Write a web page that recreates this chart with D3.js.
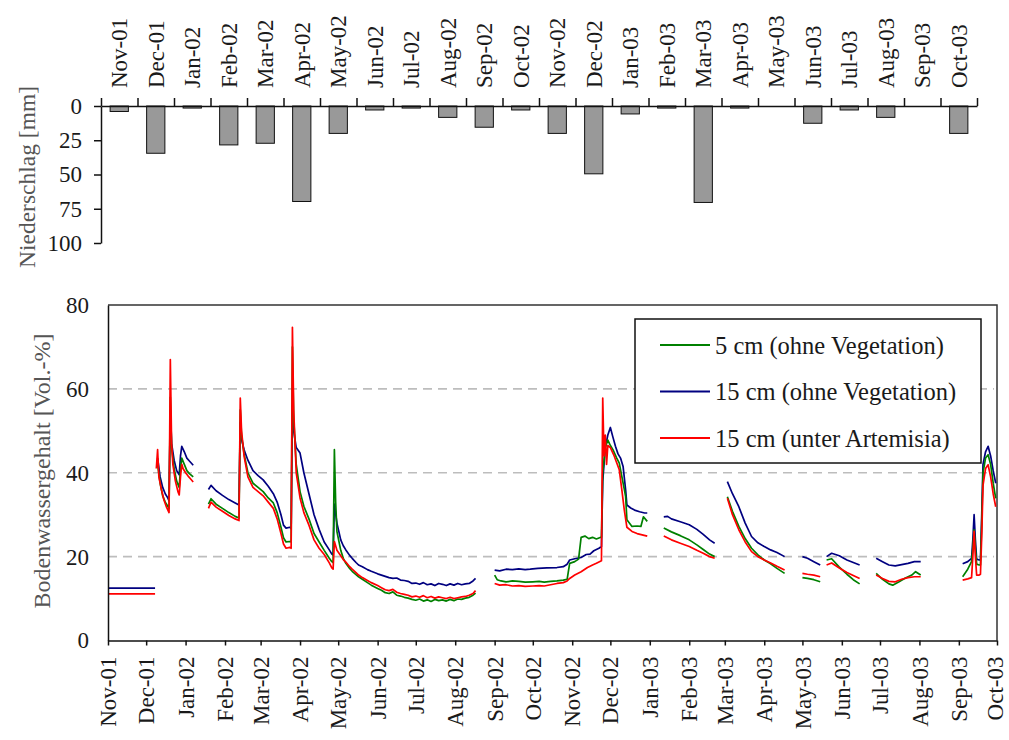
<!DOCTYPE html>
<html>
<head>
<meta charset="utf-8">
<script src="https://cdn.jsdelivr.net/npm/d3@7"></script>
<style>
  html, body { margin: 0; padding: 0; background: #fff; }
  svg, svg text { font-family: "Liberation Serif", "Times New Roman", Times, "DejaVu Serif", serif !important; }
  svg { display: block; }
</style>
</head>
<body>
<svg id="chart" width="1009" height="740"></svg>
<script>
// Month labels shared by the precipitation bars and the soil-moisture time axis
const months = ["Nov-01","Dec-01","Jan-02","Feb-02","Mar-02","Apr-02","May-02","Jun-02","Jul-02","Aug-02","Sep-02","Oct-02",
                "Nov-02","Dec-02","Jan-03","Feb-03","Mar-03","Apr-03","May-03","Jun-03","Jul-03","Aug-03","Sep-03","Oct-03"];

// Monthly precipitation [mm]
const precipitation = [4, 34.5, 1.5, 28.4, 27.2, 69.7, 20, 2.9, 1.5, 8.3, 15.5, 2.9,
                       20, 49.5, 5.8, 1.5, 70.4, 1.5, 0, 12.6, 2.9, 8.3, 0, 20];

const precipTicks = [0, 25, 50, 75, 100];
const moistureTicks = [0, 20, 40, 60, 80];
const gridValues = [20, 40, 60];

// Soil water content [Vol.-%]; null marks a gap in the record
const soil5 = [
  ["2001-12-10",42],["2001-12-12",37.5],["2001-12-14",34.5],["2001-12-16",33],["2001-12-18",32],["2001-12-19",31.5],
  ["2001-12-20",58],["2001-12-21",46],["2001-12-23",41],["2001-12-25",38],["2001-12-27",36.5],["2001-12-28",41],
  ["2001-12-29",43.5],["2001-12-31",42],["2002-01-02",40.5],["2002-01-04",39.8],["2002-01-07",39],["2002-01-08",null],
  ["2002-01-19",32.5],["2002-01-21",33.8],["2002-01-25",32.5],["2002-01-30",31.5],["2002-02-04",30.5],["2002-02-09",29.6],
  ["2002-02-12",29.2],["2002-02-13",55],["2002-02-14",49],["2002-02-16",44.5],["2002-02-19",40],["2002-02-23",37.5],
  ["2002-02-27",36.5],["2002-03-03",35.5],["2002-03-07",34],["2002-03-11",32.8],["2002-03-14",30.5],["2002-03-17",27],
  ["2002-03-19",24.5],["2002-03-21",23.5],["2002-03-24",23.6],["2002-03-25",23.5],["2002-03-26",70],["2002-03-27",53],
  ["2002-03-29",42],["2002-04-01",35.5],["2002-04-04",32],["2002-04-08",29],["2002-04-12",25.5],["2002-04-16",23.5],
  ["2002-04-20",21.5],["2002-04-24",19.6],["2002-04-26",18.8],["2002-04-27",18.6],["2002-04-28",45.5],["2002-04-29",33],
  ["2002-04-30",26],["2002-05-03",21.5],["2002-05-05",19.6],["2002-05-07",18.4],["2002-05-10",17.2],["2002-05-12",16.5],
  ["2002-05-15",15.7],["2002-05-17",15.2],["2002-05-20",14.6],["2002-05-24",13.8],["2002-05-27",13.2],["2002-06-01",12.4],
  ["2002-06-04",12.0],["2002-06-07",11.4],["2002-06-10",11.2],["2002-06-13",11.6],["2002-06-16",10.8],["2002-06-19",10.6],
  ["2002-06-22",10.3],["2002-06-25",10.1],["2002-06-28",9.8],["2002-07-01",9.6],["2002-07-04",9.9],["2002-07-07",9.4],
  ["2002-07-10",9.7],["2002-07-13",9.3],["2002-07-16",9.8],["2002-07-19",9.5],["2002-07-22",9.7],["2002-07-25",9.4],
  ["2002-07-28",9.8],["2002-07-31",9.5],["2002-08-03",9.9],["2002-08-06",9.8],["2002-08-09",10.1],["2002-08-12",10.3],
  ["2002-08-15",10.8],["2002-08-17",11.3],["2002-08-18",null],
  ["2002-09-01",15.6],["2002-09-03",14.5],["2002-09-06",14.2],["2002-09-10",14],["2002-09-15",14.2],["2002-09-20",14.1],
  ["2002-09-25",13.9],["2002-10-01",14],["2002-10-06",14.1],["2002-10-10",13.9],["2002-10-15",14.1],["2002-10-20",14.2],
  ["2002-10-25",14.4],["2002-10-28",14.6],["2002-10-30",18.4],["2002-11-03",18.8],["2002-11-06",19.4],["2002-11-08",24.6],
  ["2002-11-11",24.9],["2002-11-14",24.3],["2002-11-17",24.6],["2002-11-20",24.2],["2002-11-24",24.7],["2002-11-25",40],
  ["2002-11-27",46],["2002-11-29",47.8],["2002-12-01",46.5],["2002-12-03",45.5],["2002-12-06",43.5],["2002-12-08",42.3],
  ["2002-12-10",39.1],["2002-12-12",36],["2002-12-13",34.3],["2002-12-14",28.8],["2002-12-18",27.2],["2002-12-22",27.3],
  ["2002-12-25",27.2],["2002-12-27",29.5],["2002-12-30",28.4],["2002-12-31",null],
  ["2003-01-12",26.8],["2003-01-18",25.9],["2003-01-25",25],["2003-02-01",24],["2003-02-07",22.8],["2003-02-12",21.7],
  ["2003-02-17",20.6],["2003-02-21",20],["2003-02-22",null],
  ["2003-03-03",34.3],["2003-03-07",30.8],["2003-03-12",27.2],["2003-03-17",24.3],["2003-03-22",22],["2003-03-27",20.4],
  ["2003-04-01",19.2],["2003-04-06",18.3],["2003-04-11",17.2],["2003-04-17",16],["2003-04-18",null],
  ["2003-05-01",15],["2003-05-05",14.8],["2003-05-10",14.5],["2003-05-15",14],["2003-05-16",null],
  ["2003-05-20",19.2],["2003-05-24",19.5],["2003-05-30",17.5],["2003-06-05",15.8],["2003-06-10",14.5],["2003-06-15",13.5],
  ["2003-06-16",null],
  ["2003-06-28",16],["2003-07-03",14.6],["2003-07-08",13.5],["2003-07-11",13.2],["2003-07-16",14],["2003-07-21",14.9],
  ["2003-07-26",15.6],["2003-07-29",16.4],["2003-08-02",15.6],["2003-08-03",null],
  ["2003-09-04",15.2],["2003-09-08",17],["2003-09-11",18.8],["2003-09-12",22],["2003-09-13",26.4],["2003-09-14",22],
  ["2003-09-15",18.2],["2003-09-17",18],["2003-09-18",18],["2003-09-19",28],["2003-09-20",40],["2003-09-22",43.5],
  ["2003-09-24",44.3],["2003-09-26",42],["2003-09-28",37.5],["2003-09-30",33.9]
];

const soil15 = [
  ["2001-11-01",12.5],["2001-12-08",12.5],["2001-12-09",null],
  ["2001-12-10",43.5],["2001-12-12",39],["2001-12-14",36.5],["2001-12-16",35],["2001-12-18",34],["2001-12-19",33.3],
  ["2001-12-20",55],["2001-12-21",47],["2001-12-23",43],["2001-12-25",40.5],["2001-12-27",39.5],["2001-12-28",44],
  ["2001-12-29",46.3],["2001-12-31",45],["2002-01-02",43.5],["2002-01-04",42.8],["2002-01-07",41.8],["2002-01-08",null],
  ["2002-01-19",36],["2002-01-21",37],["2002-01-25",35.7],["2002-01-30",34.6],["2002-02-04",33.6],["2002-02-09",32.8],
  ["2002-02-12",32.3],["2002-02-13",52],["2002-02-14",48],["2002-02-16",45.5],["2002-02-19",43],["2002-02-23",40.5],
  ["2002-02-27",39.3],["2002-03-03",38.3],["2002-03-07",36.8],["2002-03-11",35],["2002-03-14",33],["2002-03-17",30],
  ["2002-03-19",27.5],["2002-03-21",26.8],["2002-03-24",27],["2002-03-25",26.7],["2002-03-26",56],["2002-03-27",50],
  ["2002-03-29",46],["2002-04-01",44.7],["2002-04-04",40],["2002-04-08",35],["2002-04-12",30],["2002-04-16",26.5],
  ["2002-04-20",23.5],["2002-04-24",21.6],["2002-04-26",20.6],["2002-04-27",20.4],["2002-04-28",32.5],["2002-04-30",28],
  ["2002-05-03",24],["2002-05-05",22.6],["2002-05-07",21.6],["2002-05-10",20.3],["2002-05-12",19.6],["2002-05-15",18.6],
  ["2002-05-17",18],["2002-05-20",17.6],["2002-05-24",16.9],["2002-05-27",16.5],["2002-06-01",15.9],["2002-06-04",15.6],
  ["2002-06-07",15.3],["2002-06-10",15.0],["2002-06-13",14.8],["2002-06-16",14.9],["2002-06-19",14.4],["2002-06-22",14.3],
  ["2002-06-25",14.1],["2002-06-28",13.6],["2002-07-01",13.7],["2002-07-04",13.4],["2002-07-07",13.8],["2002-07-10",13.3],
  ["2002-07-13",13.5],["2002-07-16",13.1],["2002-07-19",13.6],["2002-07-22",13.4],["2002-07-25",13.1],["2002-07-28",13.5],
  ["2002-07-31",13.2],["2002-08-03",13.6],["2002-08-06",13.3],["2002-08-09",13.5],["2002-08-12",13.6],["2002-08-15",14.2],
  ["2002-08-17",14.8],["2002-08-18",null],
  ["2002-09-01",16.8],["2002-09-05",16.6],["2002-09-10",17],["2002-09-15",16.9],["2002-09-20",17.1],["2002-09-25",16.9],
  ["2002-09-29",17],["2002-10-05",17.2],["2002-10-12",17.3],["2002-10-20",17.4],["2002-10-25",17.6],["2002-10-28",18.2],
  ["2002-10-30",19.2],["2002-11-03",19.5],["2002-11-08",19.8],["2002-11-12",20.5],["2002-11-15",20.6],["2002-11-18",21.4],
  ["2002-11-22",22],["2002-11-24",22.4],["2002-11-25",38],["2002-11-27",46],["2002-11-29",49],["2002-12-01",50.8],
  ["2002-12-03",48.5],["2002-12-05",46.3],["2002-12-07",44.5],["2002-12-09",43.5],["2002-12-11",41.5],["2002-12-13",35.9],
  ["2002-12-14",32.3],["2002-12-17",31.6],["2002-12-20",31.1],["2002-12-24",30.7],["2002-12-28",30.4],["2002-12-30",30.4],
  ["2002-12-31",null],
  ["2003-01-12",29.5],["2003-01-15",29.6],["2003-01-18",29],["2003-01-25",28.3],["2003-02-01",27.6],["2003-02-07",26.5],
  ["2003-02-12",25.3],["2003-02-17",24],["2003-02-21",23.2],["2003-02-22",null],
  ["2003-03-03",37.9],["2003-03-07",35],["2003-03-12",31.9],["2003-03-17",28],["2003-03-22",24.8],["2003-03-27",23.3],
  ["2003-04-01",22.4],["2003-04-06",21.6],["2003-04-11",21],["2003-04-17",20],["2003-04-18",null],
  ["2003-05-01",20],["2003-05-05",19.6],["2003-05-10",18.8],["2003-05-15",18],["2003-05-16",null],
  ["2003-05-20",20],["2003-05-24",20.8],["2003-05-30",20.2],["2003-06-05",19.2],["2003-06-10",18.6],["2003-06-15",18],
  ["2003-06-16",null],
  ["2003-06-28",19.6],["2003-07-03",18.8],["2003-07-08",18],["2003-07-13",17.8],["2003-07-18",18.1],["2003-07-23",18.4],
  ["2003-07-28",18.8],["2003-08-02",18.8],["2003-08-03",null],
  ["2003-09-04",18.3],["2003-09-08",18.8],["2003-09-11",19.6],["2003-09-12",24],["2003-09-13",30],["2003-09-14",24],
  ["2003-09-15",19.4],["2003-09-17",19.2],["2003-09-18",19.2],["2003-09-19",30],["2003-09-20",42],["2003-09-22",45],
  ["2003-09-24",46.3],["2003-09-26",44],["2003-09-28",40.5],["2003-09-30",37.5]
];

const soil15Artemisia = [
  ["2001-11-01",11.1],["2001-12-08",11.1],["2001-12-09",null],
  ["2001-12-09",41],["2001-12-10",45.5],["2001-12-11",39],["2001-12-13",36],["2001-12-15",33.5],["2001-12-17",31.8],
  ["2001-12-19",30.5],["2001-12-20",67],["2001-12-21",47],["2001-12-22",42],["2001-12-24",38],["2001-12-26",35.5],
  ["2001-12-27",34.7],["2001-12-28",39],["2001-12-29",42],["2001-12-30",41],["2002-01-01",40],["2002-01-03",39.2],
  ["2002-01-05",38.5],["2002-01-07",37.8],["2002-01-08",null],
  ["2002-01-19",31.5],["2002-01-21",33],["2002-01-25",31.8],["2002-01-30",30.8],["2002-02-04",29.8],["2002-02-09",29],
  ["2002-02-12",28.6],["2002-02-13",57.8],["2002-02-14",50],["2002-02-16",44],["2002-02-19",39],["2002-02-23",36.5],
  ["2002-02-27",35.5],["2002-03-03",34.5],["2002-03-07",33],["2002-03-11",31.5],["2002-03-14",29],["2002-03-17",25.5],
  ["2002-03-19",23],["2002-03-21",22],["2002-03-24",22.2],["2002-03-25",22],["2002-03-26",74.7],["2002-03-27",55],
  ["2002-03-29",40],["2002-04-01",34],["2002-04-04",30.5],["2002-04-08",27.5],["2002-04-12",24],["2002-04-16",22],
  ["2002-04-20",20.5],["2002-04-24",18.5],["2002-04-26",17.3],["2002-04-27",17],["2002-04-28",23.6],["2002-04-30",21.5],
  ["2002-05-03",20.2],["2002-05-05",19.3],["2002-05-07",18.7],["2002-05-10",17.6],["2002-05-12",17],["2002-05-15",16.2],
  ["2002-05-17",15.6],["2002-05-20",15],["2002-05-24",14.3],["2002-05-27",13.8],["2002-06-01",13.1],["2002-06-04",12.6],
  ["2002-06-07",12.1],["2002-06-10",11.9],["2002-06-13",12.2],["2002-06-16",11.5],["2002-06-19",11.2],["2002-06-22",11.0],
  ["2002-06-25",10.8],["2002-06-28",10.4],["2002-07-01",10.6],["2002-07-04",10.3],["2002-07-07",10.7],["2002-07-10",10.2],
  ["2002-07-13",10.5],["2002-07-16",10.1],["2002-07-19",10.4],["2002-07-22",10.2],["2002-07-25",10.0],["2002-07-28",10.3],
  ["2002-07-31",10.0],["2002-08-03",10.2],["2002-08-06",10.4],["2002-08-09",10.5],["2002-08-12",10.8],["2002-08-15",11.2],
  ["2002-08-17",11.9],["2002-08-18",null],
  ["2002-09-01",13.6],["2002-09-05",13.2],["2002-09-10",13.3],["2002-09-15",13.0],["2002-09-20",13.1],["2002-09-25",12.9],
  ["2002-10-01",13],["2002-10-06",13.1],["2002-10-10",13.0],["2002-10-15",13.3],["2002-10-20",13.6],["2002-10-25",13.8],
  ["2002-10-28",14.2],["2002-10-30",14.8],["2002-11-03",15.6],["2002-11-08",16.4],["2002-11-13",17.4],["2002-11-17",18],
  ["2002-11-20",18.4],["2002-11-24",19],["2002-11-25",57.8],["2002-11-26",44],["2002-11-27",49],["2002-11-28",42],
  ["2002-11-29",46.5],["2002-12-01",46],["2002-12-04",44],["2002-12-08",40.7],["2002-12-10",36],["2002-12-12",31],
  ["2002-12-14",27],["2002-12-18",26],["2002-12-22",25.5],["2002-12-26",25.2],["2002-12-30",24.9],["2002-12-31",null],
  ["2003-01-12",24.9],["2003-01-18",24],["2003-01-25",23.2],["2003-02-01",22.4],["2003-02-07",21.5],["2003-02-12",20.8],
  ["2003-02-17",20],["2003-02-21",19.6],["2003-02-22",null],
  ["2003-03-03",33.9],["2003-03-07",30],["2003-03-12",26.4],["2003-03-17",23.5],["2003-03-22",21.2],["2003-03-27",20],
  ["2003-04-01",19.2],["2003-04-06",18.5],["2003-04-11",17.7],["2003-04-17",16.8],["2003-04-18",null],
  ["2003-05-01",16],["2003-05-05",15.8],["2003-05-10",15.6],["2003-05-15",15.2],["2003-05-16",null],
  ["2003-05-20",18],["2003-05-24",18.5],["2003-05-30",17.3],["2003-06-05",16.2],["2003-06-10",15.5],["2003-06-15",14.8],
  ["2003-06-16",null],
  ["2003-06-28",15.6],["2003-07-03",14.8],["2003-07-08",14.1],["2003-07-13",14],["2003-07-18",14.6],["2003-07-23",15],
  ["2003-07-28",15.2],["2003-08-02",15.2],["2003-08-03",null],
  ["2003-09-04",14.4],["2003-09-08",14.7],["2003-09-11",15],["2003-09-12",20],["2003-09-13",26],["2003-09-14",20],
  ["2003-09-15",15.6],["2003-09-17",15.6],["2003-09-18",15.8],["2003-09-19",25],["2003-09-20",37],["2003-09-22",41],
  ["2003-09-24",41.9],["2003-09-26",39],["2003-09-28",35],["2003-09-30",31.9]
];

const seriesNames = ["5 cm (ohne Vegetation)", "15 cm (ohne Vegetation)", "15 cm (unter Artemisia)"];
const seriesColors = ["#008000", "#000080", "#ff0000"];

const svg = d3.select("#chart");
const textColor = "#1a1a1a";
const titleColor = "#555";
const parseDate = d3.timeParse("%Y-%m-%d");

/* ---------- Precipitation panel (bars hang down from the top axis) ---------- */
const precipBox = { x0: 101, x1: 977, y0: 106, y1: 243 };
const xBand = d3.scaleBand().domain(months).range([precipBox.x0, precipBox.x1]).paddingInner(0.5).paddingOuter(0.25);
const xEdge = d3.scaleLinear().domain([0, months.length]).range([precipBox.x0, precipBox.x1]);
const yPrecip = d3.scaleLinear().domain([0, 100]).range([precipBox.y0, precipBox.y1]);

const gTop = svg.append("g");

gTop.selectAll("rect.bar")
  .data(precipitation)
  .enter().append("rect")
  .attr("class", "bar")
  .attr("x", (d, i) => xBand(months[i]))
  .attr("y", yPrecip(0))
  .attr("width", xBand.bandwidth())
  .attr("height", d => yPrecip(d) - yPrecip(0))
  .attr("fill", "#999")
  .attr("stroke", "#111")
  .attr("stroke-width", 1);

// month separators along the top axis
const topAxis = gTop.append("g")
  .attr("transform", `translate(0,${precipBox.y0})`)
  .call(d3.axisTop(xEdge).tickValues(d3.range(months.length + 1)).tickFormat("").tickSize(8).tickSizeOuter(0));
topAxis.selectAll("path, line").attr("stroke", "#111").attr("stroke-width", 1.5);

gTop.selectAll("text.mlab")
  .data(months)
  .enter().append("text")
  .attr("class", "mlab")
  .attr("transform", d => `translate(${xBand(d) + xBand.bandwidth() / 2},88) rotate(-90)`)
  .attr("text-anchor", "start")
  .attr("dy", "0.35em")
  .attr("font-size", 23)
  .attr("fill", textColor)
  .text(d => d);

const leftTop = gTop.append("g")
  .attr("transform", `translate(${precipBox.x0},0)`)
  .call(d3.axisLeft(yPrecip).tickValues(precipTicks).tickSize(7).tickPadding(12).tickSizeOuter(0));
leftTop.selectAll("path, line").attr("stroke", "#111").attr("stroke-width", 1.5);
leftTop.selectAll("text").attr("font-size", 23).attr("fill", textColor);

gTop.append("text")
  .attr("transform", "translate(27,177) rotate(-90)")
  .attr("text-anchor", "middle")
  .attr("dy", "0.35em")
  .attr("font-size", 23.5)
  .attr("fill", titleColor)
  .text("Niederschlag [mm]");

/* ---------- Soil water content panel ---------- */
const moistBox = { x0: 108, x1: 997, y0: 305, y1: 640.5 };
const xTime = d3.scaleTime()
  .domain([parseDate("2001-11-01"), parseDate("2003-10-01")])
  .range([moistBox.x0, moistBox.x1]);
const yMoist = d3.scaleLinear().domain([0, 80]).range([moistBox.y1, moistBox.y0]);

const gBot = svg.append("g");

// dashed horizontal guides
gBot.selectAll("line.grid")
  .data(gridValues)
  .enter().append("line")
  .attr("class", "grid")
  .attr("x1", moistBox.x0).attr("x2", moistBox.x1 - 3)
  .attr("y1", d => yMoist(d)).attr("y2", d => yMoist(d))
  .attr("stroke", "#bdbdbd")
  .attr("stroke-width", 1.6)
  .attr("stroke-dasharray", "9,6");

// frame: top and right edges
gBot.append("path")
  .attr("d", d3.line()([[moistBox.x0, moistBox.y0], [moistBox.x1, moistBox.y0], [moistBox.x1, moistBox.y1]]))
  .attr("fill", "none")
  .attr("stroke", "#333")
  .attr("stroke-width", 1.5);

const line = d3.line()
  .defined(d => d[1] != null)
  .x(d => xTime(parseDate(d[0])))
  .y(d => yMoist(d[1]));

const allSeries = [soil5, soil15, soil15Artemisia];
// draw deeper probe first, then 5 cm, Artemisia on top
[1, 0, 2].forEach(k => {
  gBot.append("path")
    .datum(allSeries[k])
    .attr("d", line)
    .attr("fill", "none")
    .attr("stroke", seriesColors[k])
    .attr("stroke-width", 1.7)
    .attr("stroke-linejoin", "round");
});

const monthStarts = d3.timeMonth.range(parseDate("2001-11-01"), parseDate("2003-10-02"));
const bottomAxis = gBot.append("g")
  .attr("transform", `translate(0,${moistBox.y1})`)
  .call(d3.axisBottom(xTime).tickValues(monthStarts).tickFormat((d, i) => months[i]).tickSize(5).tickSizeOuter(0));
bottomAxis.selectAll("path, line").attr("stroke", "#111").attr("stroke-width", 1.5);
bottomAxis.selectAll("text")
  .attr("font-size", 23)
  .attr("fill", textColor)
  .attr("text-anchor", "end")
  .attr("transform", "rotate(-90)")
  .attr("x", -16)
  .attr("y", (d, i) => i === months.length - 1 ? -2 : 0)
  .attr("dy", "0.33em");

const leftBot = gBot.append("g")
  .attr("transform", `translate(${moistBox.x0},0)`)
  .call(d3.axisLeft(yMoist).tickValues(moistureTicks).tickSize(0).tickPadding(19).tickSizeOuter(0));
leftBot.selectAll("path").attr("stroke", "#111").attr("stroke-width", 1.5);
leftBot.selectAll("text").attr("font-size", 23).attr("fill", textColor);

gBot.append("text")
  .attr("transform", "translate(42,471) rotate(-90)")
  .attr("text-anchor", "middle")
  .attr("dy", "0.35em")
  .attr("font-size", 24)
  .attr("fill", titleColor)
  .text("Bodenwassergehalt [Vol.-%]");

/* ---------- Legend ---------- */
const legend = gBot.append("g");
legend.append("rect")
  .attr("x", 635).attr("y", 319)
  .attr("width", 346).attr("height", 144)
  .attr("fill", "#fff")
  .attr("stroke", "#111")
  .attr("stroke-width", 1.5);

const legendRows = d3.scalePoint().domain(d3.range(seriesNames.length)).range([345, 438]);
seriesNames.forEach((name, k) => {
  const y = legendRows(k);
  legend.append("line")
    .attr("x1", 660).attr("x2", 710)
    .attr("y1", y).attr("y2", y)
    .attr("stroke", seriesColors[k])
    .attr("stroke-width", 2.2);
  legend.append("text")
    .attr("x", 715).attr("y", y)
    .attr("dy", "0.35em")
    .attr("font-size", 24.5)
    .attr("fill", textColor)
    .text(name);
});
</script>
</body>
</html>
